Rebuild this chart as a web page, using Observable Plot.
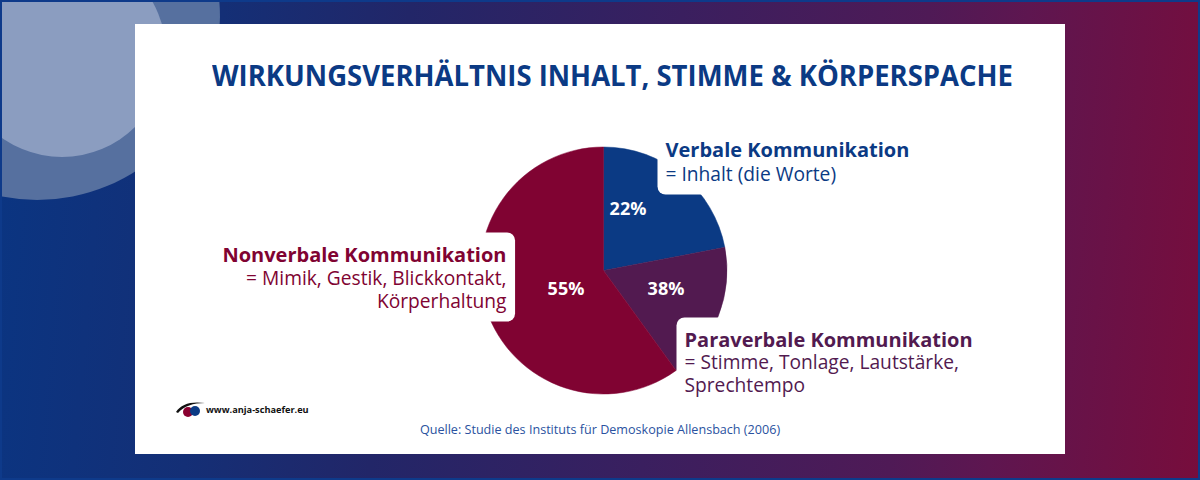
<!DOCTYPE html>
<html>
<head>
<meta charset="utf-8">
<script src="https://cdn.jsdelivr.net/npm/d3@7"></script>
<script src="https://cdn.jsdelivr.net/npm/@observablehq/plot@0.6"></script>
<style>
html, body { margin: 0; padding: 0; }
body { width: 1200px; height: 480px; overflow: hidden; position: relative; font-family: "Open Sans", sans-serif; }
#bg { position: absolute; left: 0; top: 0; width: 1200px; height: 480px; box-sizing: border-box;
  border: 2px solid #0e3a8a; overflow: hidden;
  background: linear-gradient(95deg, #0a3582 0%, #142f76 18%, #222668 33%, #3a1f5f 55%, #4f1a56 75%, #5e1650 83%, #770d3c 100%); }
.circle { position: absolute; border-radius: 50%; }
#c1 { left: -148px; top: -168px; width: 366px; height: 366px; background: #56709f; }
#c2 { left: -44px; top: -53px; width: 208px; height: 208px; background: #8b9dc0; }
#card { position: absolute; left: 135px; top: 24px; width: 930px; height: 430px; background: #ffffff; }
#title { position: absolute; left: 212px; top: 61px; font-size: 28px; line-height: 28px; font-weight: 700;
  color: #0b3a84; white-space: nowrap; transform-origin: 0 0; margin: 0; }
#chart { position: absolute; left: 135px; top: 100px; }
#source { position: absolute; left: 135px; top: 424px; width: 930px; text-align: center; font-size: 12.6px;
  line-height: 12.6px; color: #2a52a0; padding-left: 0; }
#logo { position: absolute; left: 175px; top: 401px; }
#logotext { position: absolute; left: 206px; top: 405px; font-size: 9.2px; line-height: 9.2px; font-weight: 700; color: #111; }
</style>
</head>
<body>
<div id="bg"><div class="circle" id="c1"></div><div class="circle" id="c2"></div></div>
<div id="card"></div>
<h1 id="title">WIRKUNGSVERHÄLTNIS INHALT, STIMME &amp; KÖRPERSPACHE</h1>
<div id="chart"></div>
<div id="source">Quelle: Studie des Instituts für Demoskopie Allensbach (2006)</div>
<svg id="logo" width="32" height="18" viewBox="0 0 32 18">
  <circle cx="13" cy="11" r="5" fill="#8a0030"/>
  <circle cx="20" cy="10" r="5" fill="#0b3a84"/>
  <path d="M1,11 C6,3 16,0 30,2 C18,2 9,5 3,12 Z" fill="#111"/>
</svg>
<div id="logotext">www.anja-schaefer.eu</div>
<script>
// ---- data ----
const categories = ["Verbale Kommunikation", "Paraverbale Kommunikation", "Nonverbale Kommunikation"];
const descriptions = ["= Inhalt (die Worte)", "= Stimme, Tonlage, Lautstärke,\nSprechtempo", "= Mimik, Gestik, Blickkontakt,\nKörperhaltung"];
const percentLabels = ["22%", "38%", "55%"];
const sliceShares = [22, 18, 60]; // angular shares as drawn in the picture
const sliceColors = ["#0b3a84", "#521a50", "#800332"];

// ---- layout (page pixels) ----
const W = 930, H = 320, LEFT = 135, TOP = 100;
const PIE = {cx: 603.5, cy: 270.5, r: 123.5};
const pctPos = [[627.5, 208.5], [665.5, 288.5], [565.5, 288.5]];
const titlePos = [[665, 156], [684, 346], [506, 261]];
const descPos = [[665, 180], [684, 391], [506, 307]];
const anchors = ["start", "start", "end"];

const toX = px => (px - PIE.cx) / PIE.r;
const toY = py => (PIE.cy - py) / PIE.r;

const rows = categories.map((category, i) => ({
  category,
  description: descriptions[i],
  pct: percentLabels[i],
  share: sliceShares[i],
  px: toX(pctPos[i][0]), py: toY(pctPos[i][1]),
  tx: toX(titlePos[i][0]), ty: toY(titlePos[i][1]),
  dx: toX(descPos[i][0]), dy: toY(descPos[i][1]),
  anchor: anchors[i]
}));

const pieMark = (index, scales) => {
  const x0 = scales.x(0), y0 = scales.y(0), r = scales.x(1) - scales.x(0);
  const arcs = d3.pie().sort(null).value(d => d.share)(rows);
  const arc = d3.arc().innerRadius(0).outerRadius(r);
  const g = d3.create("svg:g").attr("transform", `translate(${x0},${y0})`);
  g.selectAll("path").data(arcs).join("path")
    .attr("d", arc)
    .attr("fill", d => scales.color(d.data.category))
    .attr("stroke", d => scales.color(d.data.category))
    .attr("stroke-width", 0.5);
  return g.node();
};

const titleOpts = (anchor) => ({filter: d => d.anchor === anchor, x: "tx", y: "ty", text: "category", fill: "category",
  textAnchor: anchor, lineAnchor: "bottom", fontSize: 20, fontWeight: 700, className: "lbl-title"});
const descOpts = (anchor) => ({filter: d => d.anchor === anchor, x: "dx", y: "dy", text: "description", fill: "category",
  textAnchor: anchor, lineAnchor: "bottom", lineHeight: 23 / 19.2, fontSize: 19.2, fontWeight: 400, className: "lbl-desc"});

const chart = Plot.plot({
  width: W, height: H, margin: 0,
  x: {domain: [toX(LEFT), toX(LEFT + W)], axis: null},
  y: {domain: [toY(TOP + H), toY(TOP)], axis: null},
  color: {type: "ordinal", domain: categories, range: sliceColors},
  style: {fontFamily: '"Open Sans", sans-serif', background: "transparent", overflow: "visible"},
  marks: [
    pieMark,
    Plot.text(rows, {x: "px", y: "py", text: "pct", fill: "white", fontSize: 18, fontWeight: 700}),
    Plot.text(rows, titleOpts("start")),
    Plot.text(rows, titleOpts("end")),
    Plot.text(rows, descOpts("start")),
    Plot.text(rows, descOpts("end"))
  ]
});
document.getElementById("chart").append(chart);

// white rounded boxes behind the outer labels
(function () {
  const ns = "http://www.w3.org/2000/svg";
  const svg = chart.tagName.toLowerCase() === "svg" ? chart : chart.querySelector("svg");
  const titles = svg.querySelectorAll("g.lbl-title text");
  const descs = svg.querySelectorAll("g.lbl-desc text");
  const first = svg.querySelector("g.lbl-title");
  if (!first) return;
  const sb = svg.getBoundingClientRect();
  const boxes = document.createElementNS(ns, "g");
  titles.forEach((t, i) => {
    const a = t.getBoundingClientRect(), b = descs[i].getBoundingClientRect();
    const x1 = Math.min(a.left, b.left) - sb.left, x2 = Math.max(a.right, b.right) - sb.left;
    const y1 = Math.min(a.top, b.top) - sb.top, y2 = Math.max(a.bottom, b.bottom) - sb.top;
    const pad = 8;
    const r = document.createElementNS(ns, "rect");
    r.setAttribute("x", x1 - pad); r.setAttribute("y", y1 - pad);
    r.setAttribute("width", x2 - x1 + 2 * pad); r.setAttribute("height", y2 - y1 + 2 * pad);
    r.setAttribute("rx", 8); r.setAttribute("fill", "#ffffff");
    boxes.append(r);
  });
  first.parentNode.insertBefore(boxes, first);
})();

// condense the heading to the reference width
(function () {
  const t = document.getElementById("title");
  const w = t.getBoundingClientRect().width;
  t.style.transform = `scaleX(${801 / w})`;
})();
</script>
</body>
</html>
